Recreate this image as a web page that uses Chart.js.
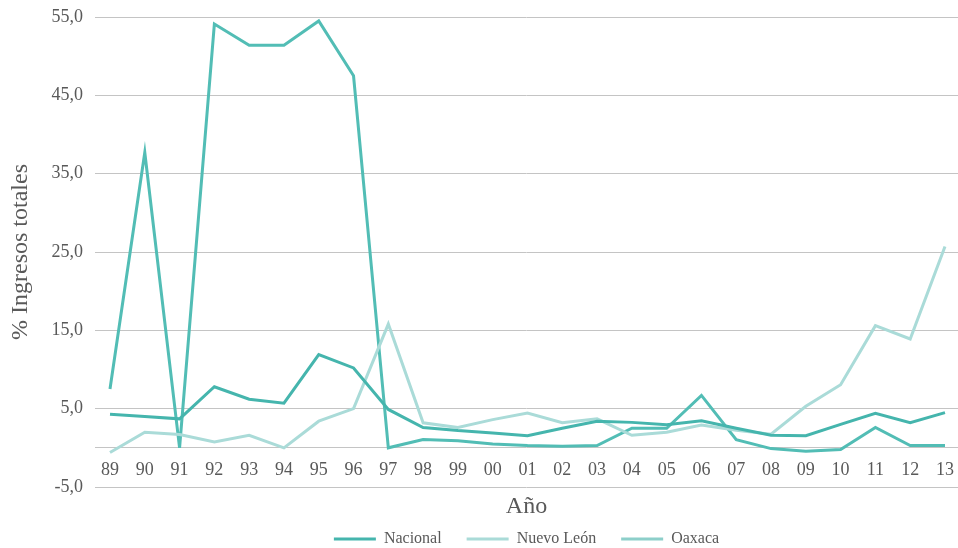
<!DOCTYPE html>
<html>
<head>
<meta charset="utf-8">
<script src="https://cdn.jsdelivr.net/npm/chart.js@4"></script>
<style>
  body { margin: 0; background: #fff; }
  #wrap { width: 958px; height: 548px; position: relative; }
</style>
</head>
<body>
<div id="wrap"><canvas id="chart"></canvas></div>
<script>
const years = ['89', '90', '91', '92', '93', '94', '95', '96', '97', '98', '99', '00', '01',
    '02', '03', '04', '05', '06', '07', '08', '09', '10', '11', '12', '13'];
const nacional = [4.3, 4.0, 3.7, 7.8, 6.2, 5.7, 11.9, 10.2, 4.9, 2.6, 2.2, 1.9, 1.55,
    2.5, 3.4, 3.25, 2.95, 3.45, 2.5, 1.6, 1.55, 3.0, 4.4, 3.2, 4.5];
const nuevoLeon = [-0.6, 2.0, 1.7, 0.75, 1.6, 0.0, 3.4, 5.0, 15.8, 3.2, 2.6, 3.6, 4.45,
    3.2, 3.7, 1.6, 2.0, 2.9, 2.25, 1.75, 5.3, 8.05, 15.6, 13.9, 25.7];
const oaxaca = [7.5, 37.7, 0.0, 54.1, 51.4, 51.4, 54.5, 47.5, 0.0, 1.05, 0.9, 0.5, 0.3,
    0.2, 0.3, 2.5, 2.5, 6.7, 1.05, -0.1, -0.45, -0.2, 2.6, 0.3, 0.3];
const yTicks = [-5, 5, 15, 25, 35, 45, 55];

const serif = '"Liberation Serif", "DejaVu Serif", serif';
const textColor = '#595959';

function toPoints(values) {
    return values.map((v, i) => ({ x: i, y: v }));
}

function series(label, values, color, swatch) {
    return {
        label,
        data: toPoints(values),
        borderColor: color,
        backgroundColor: swatch,
        borderWidth: 3,
        pointRadius: 0,
        tension: 0,
        fill: false
    };
}

const ctx = document.getElementById('chart').getContext('2d');
new Chart(ctx, {
    type: 'line',
    data: {
        datasets: [
            series('Nacional', nacional, '#45b5ad', '#45b5ad'),
            series('Nuevo León', nuevoLeon, '#aadbd8', '#aadbd8'),
            series('Oaxaca', oaxaca, '#52bdb5', '#8dcfca')
        ]
    },
    options: {
        responsive: true,
        maintainAspectRatio: false,
        animation: false,
        layout: { padding: { top: 17, left: 0, right: 0, bottom: 0 } },
        plugins: {
            tooltip: { enabled: false },
            legend: {
                position: 'bottom',
                fullSize: false,
                maxHeight: 42,
                labels: {
                    boxWidth: 42,
                    boxHeight: 3,
                    padding: 25,
                    color: textColor,
                    font: { family: serif, size: 16 },
                    generateLabels(chart) {
                        const items = Chart.defaults.plugins.legend.labels.generateLabels(chart);
                        items.forEach(item => { item.lineWidth = 0; });
                        return items;
                    }
                }
            }
        },
        scales: {
            x: {
                type: 'linear',
                min: -0.431,
                max: 24.374,
                afterBuildTicks(scale) {
                    scale.ticks = years.map((_, i) => ({ value: i }));
                },
                afterFit(scale) {
                    scale.paddingLeft = 0;
                    scale.paddingRight = 0;
                },
                grid: { display: false, drawTicks: false },
                border: { display: false },
                ticks: {
                    // mirrored so the year labels sit between the 0 and -5 lines
                    mirror: true,
                    autoSkip: false,
                    maxRotation: 0,
                    padding: 6,
                    color: textColor,
                    font: { family: serif, size: 18 },
                    callback: value => years[value]
                },
                title: {
                    display: true,
                    text: 'Año',
                    color: textColor,
                    font: { family: serif, size: 24 },
                    padding: { top: -6.4, bottom: -15.4 }
                }
            },
            y: {
                min: -5,
                max: 55,
                afterFit(scale) {
                    scale.width = 95;
                    scale.paddingTop = 0;
                    scale.paddingBottom = 0;
                },
                afterBuildTicks(scale) {
                    // zero line acts as the category axis
                    scale.ticks = yTicks.concat([0]).sort((a, b) => a - b).map(v => ({ value: v }));
                },
                grid: { color: '#c4c4c4', lineWidth: 1, drawTicks: false },
                border: { display: false },
                ticks: {
                    padding: 12,
                    color: textColor,
                    font: { family: serif, size: 18 },
                    callback: value => value === 0 ? '' : value.toFixed(1).replace('.', ',')
                },
                title: {
                    display: true,
                    text: '% Ingresos totales',
                    color: textColor,
                    font: { family: serif, size: 24 },
                    padding: { top: 6, bottom: 0 }
                }
            }
        }
    }
});
</script>
</body>
</html>
